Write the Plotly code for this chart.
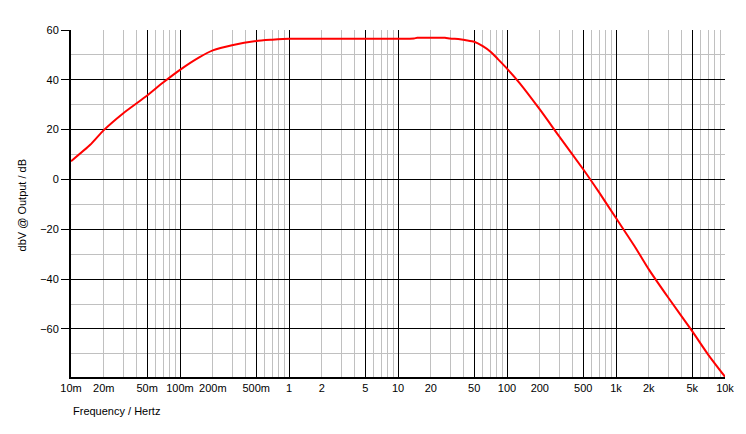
import plotly.graph_objects as go

# Data
freq_hz = [0.01, 0.015, 0.02, 0.03, 0.05, 0.07, 0.1, 0.15, 0.2, 0.3, 0.5, 0.7,
           1, 2, 5, 10, 14, 15, 20, 27, 30, 37, 42, 50, 60, 72, 83, 100, 130,
           200, 300, 500, 700, 1000, 1500, 2000, 3000, 5000, 7000, 10000]
output_dbv = [7.3, 13.9, 19.8, 26.5, 33.7, 38.9, 44.0, 49.0, 51.8, 53.9, 55.6, 56.1,
              56.5, 56.5, 56.5, 56.5, 56.6, 56.9, 56.9, 56.9, 56.6, 56.3, 55.9, 55.3,
              53.5, 51.0, 48.2, 44.5, 38.8, 28.1, 17.4, 4.1, -5.2, -15.5,
              -27.2, -36.1, -47.3, -60.9, -70.3, -79.2]

# Tick labels
label_vals = [0.01, 0.02, 0.05, 0.1, 0.2, 0.5, 1, 2, 5, 10, 20, 50, 100, 200, 500,
              1000, 2000, 5000, 10000]
label_text = ["10m", "20m", "50m", "100m", "200m", "500m", "1", "2", "5", "10", "20",
              "50", "100", "200", "500", "1k", "2k", "5k", "10k"]
major_grid_vals = [0.01, 0.05, 0.1, 0.5, 1, 5, 10, 50, 100, 500, 1000, 5000, 10000]
minor_mult = [2, 3, 4, 6, 7, 8, 9]
minor_grid_vals = [m * 10 ** e for e in range(-2, 4) for m in minor_mult]
y_ticks = [60, 40, 20, 0, -20, -40, -60]

FONT = "Liberation Sans, Arial, sans-serif"

fig = go.Figure()
fig.add_trace(go.Scatter(x=freq_hz, y=output_dbv, mode="lines",
                         line=dict(color="#ff0000", width=2, shape="spline", smoothing=0.6),
                         showlegend=False, hoverinfo="skip"))
# ghost trace on the overlay axis that carries the grid
fig.add_trace(go.Scatter(x=freq_hz, y=output_dbv, mode="lines", xaxis="x2",
                         line=dict(color="rgba(0,0,0,0)", width=0),
                         showlegend=False, hoverinfo="skip"))

fig.update_layout(
    width=746, height=434,
    margin=dict(l=71, r=18, t=30, b=57),
    paper_bgcolor="white", plot_bgcolor="white",
    font=dict(family=FONT, size=11, color="black"),
    xaxis=dict(type="log", range=[-2, 4], tickmode="array",
               tickvals=label_vals, ticktext=label_text,
               showgrid=False, ticks="", showline=True, linecolor="black", linewidth=2,
               zeroline=False, tickfont=dict(size=11, family=FONT)),
    xaxis2=dict(type="log", range=[-2, 4], overlaying="x", anchor="y", side="bottom",
                tickmode="array", tickvals=major_grid_vals, showticklabels=False,
                showgrid=True, gridcolor="black", gridwidth=1,
                ticks="", showline=False, zeroline=False,
                minor=dict(tickmode="array", tickvals=minor_grid_vals, ticks="",
                           showgrid=True, gridcolor="#c0c0c0", gridwidth=1)),
    yaxis=dict(range=[-79.3, 60], tickmode="array", tickvals=y_ticks,
               showgrid=True, gridcolor="black", gridwidth=1,
               ticks="outside", ticklen=8, tickcolor="black", tickwidth=1,
               showline=True, linecolor="black", linewidth=2, zeroline=False,
               minor=dict(dtick=10, tick0=0, ticks="", showgrid=True,
                          gridcolor="#c0c0c0", gridwidth=1),
               tickfont=dict(size=11, family=FONT)),
    annotations=[
        dict(text="Frequency / Hertz", xref="paper", yref="paper", x=0, y=-0.098,
             xanchor="left", yanchor="middle", showarrow=False,
             font=dict(size=11, family=FONT)),
        dict(text="dbV @ Output / dB", xref="paper", yref="paper", x=-0.0746, y=0.495,
             xanchor="center", yanchor="middle", textangle=-90, showarrow=False,
             font=dict(size=11, family=FONT)),
    ],
)

fig.write_html("out.html")
